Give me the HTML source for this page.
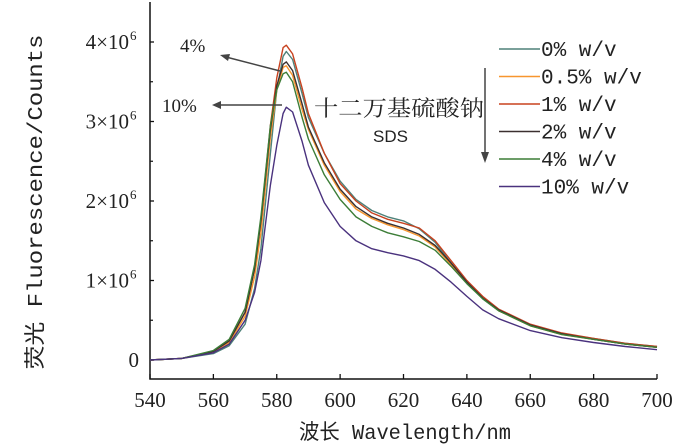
<!DOCTYPE html>
<html><head><meta charset="utf-8"><style>
body{margin:0;background:#fff;}
svg{display:block;font-family:"Liberation Serif","Noto Serif CJK SC",serif;}
.mono{font-family:"Liberation Mono","Noto Sans CJK SC",monospace;}
</style></head><body>
<svg id="chart" width="700" height="445" viewBox="0 0 700 445" xmlns="http://www.w3.org/2000/svg">
<g id="axes"></g>
<g id="plot"></g>
<text class="mono" transform="translate(42,202) rotate(-90)" text-anchor="middle" font-size="21" textLength="335" lengthAdjust="spacingAndGlyphs" fill="#222">荧光 Fluorescence/Counts</text>
<text class="mono" x="405" y="439" text-anchor="middle" font-size="21" textLength="212" lengthAdjust="spacingAndGlyphs" fill="#222">波长 Wavelength/nm</text>
<g fill="#222" font-size="19">
<text x="180" y="52">4%</text>
<line x1="280" y1="71" x2="226" y2="57" stroke="#444" stroke-width="1.5"/>
<path d="M220,55 L230,54 L228,61 Z" fill="#444"/>
<text x="162" y="112">10%</text>
<line x1="282" y1="105" x2="218" y2="105" stroke="#444" stroke-width="1.5"/>
<path d="M212,105 L221,101 L221,109 Z" fill="#444"/>
<text x="314" y="116" font-size="22" textLength="170" lengthAdjust="spacingAndGlyphs">十二万基硫酸钠</text>
<text x="373" y="142" font-family="Liberation Sans, sans-serif" font-size="17">SDS</text>
<line x1="485" y1="68" x2="485" y2="158" stroke="#444" stroke-width="1.5"/>
<path d="M485,163 L481,152 L489,152 Z" fill="#444"/>
</g>
<g id="legend"></g>
</svg>
<script>
const wl = [540,550,560,565,570,573,575,578,580,582,583,585,588,590,595,600,605,610,615,620,625,630,635,640,645,650,660,670,680,690,700];
const names = ["0% w/v","0.5% w/v","1% w/v","2% w/v","4% w/v","10% w/v"];
const colors = ["#4e8179","#f7962e","#c8421f","#3b3030","#3c7d37","#4a327e"];
const s0  = [0,0.02,0.08,0.18,0.45,0.9,1.4,2.6,3.4,3.82,3.88,3.78,3.35,3.05,2.6,2.25,2.02,1.88,1.8,1.75,1.65,1.48,1.22,0.97,0.77,0.62,0.44,0.33,0.27,0.21,0.17];
const s05 = [0,0.02,0.1,0.22,0.55,1.05,1.6,2.8,3.4,3.68,3.7,3.58,3.15,2.9,2.45,2.12,1.9,1.78,1.7,1.64,1.56,1.42,1.2,0.97,0.78,0.62,0.43,0.32,0.26,0.2,0.16];
const s1  = [0,0.02,0.11,0.24,0.6,1.15,1.75,2.95,3.55,3.93,3.96,3.85,3.42,3.1,2.6,2.22,2.0,1.85,1.77,1.72,1.66,1.5,1.25,1.0,0.8,0.64,0.45,0.34,0.27,0.21,0.17];
const s2  = [0,0.02,0.11,0.24,0.6,1.15,1.75,2.9,3.45,3.72,3.75,3.64,3.22,2.93,2.48,2.15,1.93,1.8,1.72,1.66,1.58,1.44,1.22,0.98,0.78,0.63,0.44,0.33,0.26,0.2,0.16];
const s4  = [0,0.02,0.12,0.26,0.65,1.2,1.8,2.95,3.4,3.6,3.62,3.5,3.05,2.78,2.33,2.02,1.8,1.68,1.6,1.55,1.49,1.38,1.18,0.96,0.77,0.62,0.43,0.32,0.26,0.2,0.16];
const s10 = [0,0.02,0.09,0.2,0.5,0.85,1.25,2.2,2.7,3.1,3.18,3.12,2.75,2.45,1.98,1.68,1.5,1.4,1.35,1.31,1.25,1.14,0.98,0.8,0.63,0.52,0.37,0.28,0.22,0.17,0.13];
const series = [s0,s05,s1,s2,s4,s10];
const xTicks = [540,560,580,600,620,640,660,680,700];
const yTicks = [0,1,2,3,4];
const yTickBase = ["0","1×10","2×10","3×10","4×10"];

const X0=150,X1=657,Y0=360,PX=79.5;
const xs = v => X0 + (v-540)*(X1-X0)/160;
const ys = v => Y0 - v*PX;
const NS="http://www.w3.org/2000/svg";
function mk(tag, parent, attrs){const e=document.createElementNS(NS,tag);for(const k in attrs)e.setAttribute(k,attrs[k]);parent.appendChild(e);return e;}

const axes=document.getElementById('axes');
let a=mk('path',axes,{d:`M${X0},2 L${X0},379 L${X1},379`,fill:'none',stroke:'#111','stroke-width':1.5});


xTicks.forEach(t=>{
  let l=mk('line',axes,{x1:xs(t),x2:xs(t),y1:379,y2:374,stroke:'#111','stroke-width':1.3});
  
  
  let tx=mk('text',axes,{x:xs(t),y:407,'text-anchor':'middle','font-size':21,fill:'#222'});
  
  
  tx.textContent=t;
});
yTicks.forEach((t,i)=>{
  let l=mk('line',axes,{x1:X0,x2:X0+4,y1:ys(t),y2:ys(t),stroke:'#111','stroke-width':1.3});
  
  
  if(t<4){let m=mk('line',axes,{x1:X0,x2:X0+3,y1:ys(t+0.5),y2:ys(t+0.5),stroke:'#111','stroke-width':1.2});
  
  }
  let tx=mk('text',axes,{x:t===0?139:129,y:ys(t)+7,'text-anchor':'end','font-size':21,fill:'#222'});
  
  
  tx.textContent=yTickBase[i];
  if(t>0){let sp=mk('text',axes,{x:130,y:ys(t)-2,'font-size':13,fill:'#222'});
  
  
  sp.textContent='6';}
});

const plot=document.getElementById('plot');
const legend=document.getElementById('legend');
series.forEach((s,i)=>{
  const d=s.map((v,j)=>(j?'L':'M')+xs(wl[j]).toFixed(1)+','+ys(v).toFixed(1)).join(' ');
  let p=mk('path',plot,{d:d,fill:'none',stroke:colors[i],'stroke-width':1.4,'stroke-linejoin':'round'});
  
  
  const ly=49+i*27.5;
  let g=mk('g',legend,{});
  
  
  mk('line',g,{x1:499,x2:540,y1:ly,y2:ly,stroke:colors[i],'stroke-width':1.6});
  let t=mk('text',g,{x:541,y:ly+7,'font-size':21,fill:'#222',class:'mono'});
  t.textContent=names[i];
});
</script>
</body></html>
